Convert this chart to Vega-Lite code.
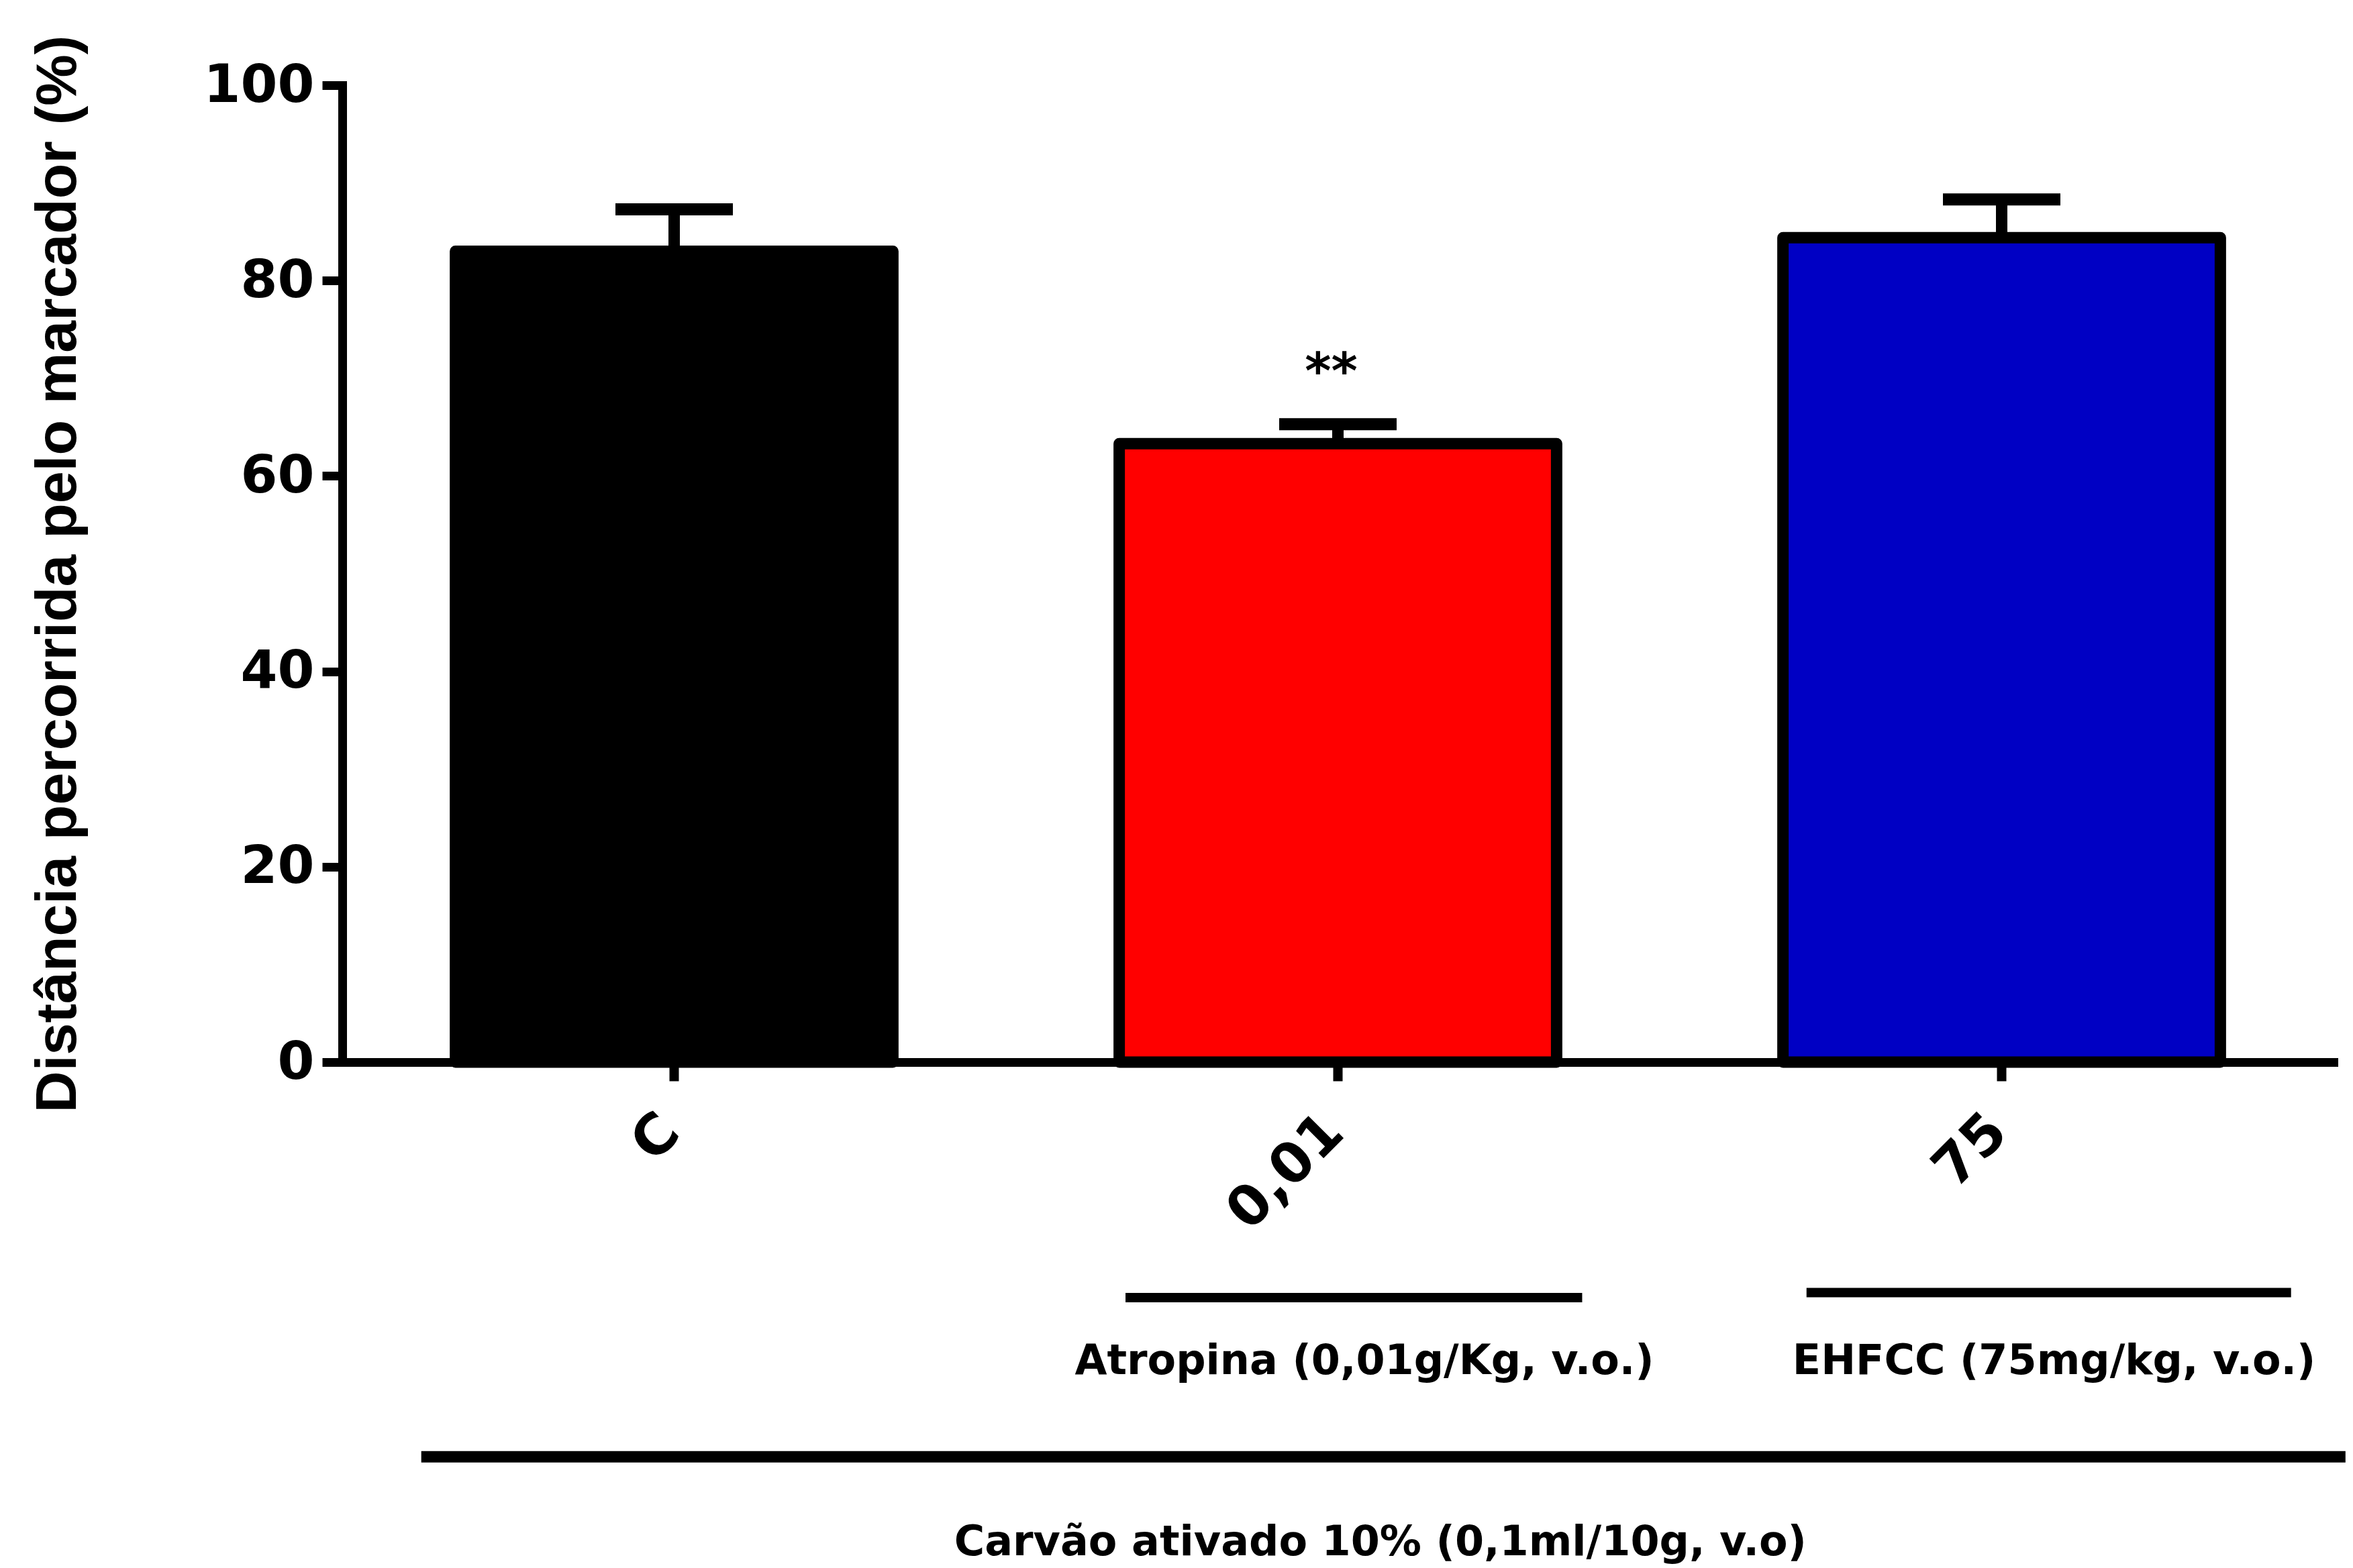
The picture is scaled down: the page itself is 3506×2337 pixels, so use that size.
{
  "$schema": "https://vega.github.io/schema/vega-lite/v6.json",
  "autosize": {"type": "none"},
  "width": 2967,
  "height": 1456,
  "padding": {"left": 510, "top": 127, "right": 29, "bottom": 754},
  "background": "white",
  "config": {"view": {"stroke": null}},
  "datasets": {
    "barras": [
      {"grupo": "C", "media": 83.0, "superior": 87.3, "sig": ""},
      {"grupo": "0,01", "media": 63.3, "superior": 65.3, "sig": "**"},
      {"grupo": "75", "media": 84.4, "superior": 88.3, "sig": ""}
    ],
    "notas": [
      {"texto": "Atropina (0,01g/Kg, v.o.)", "inicio": 1.18, "fim": 1.868, "centro": 1.54, "linha": -24.1, "nivel": -30.6, "espessura": "fina"},
      {"texto": "EHFCC (75mg/kg, v.o.)", "inicio": 2.206, "fim": 2.936, "centro": 2.579, "linha": -23.6, "nivel": -30.6, "espessura": "fina"},
      {"texto": "Carvão ativado 10% (0,1ml/10g, v.o)", "inicio": 0.119, "fim": 3.018, "centro": 1.564, "linha": -40.4, "nivel": -49.2, "espessura": "grossa"}
    ]
  },
  "layer": [
    {
      "data": {"name": "barras"},
      "encoding": {
        "x": {
          "field": "grupo",
          "type": "nominal",
          "sort": ["C", "0,01", "75"],
          "scale": {"paddingInner": 0.341, "paddingOuter": 0.1705},
          "axis": {
            "title": null,
            "labelAngle": -45,
            "labelFont": "DejaVu Sans",
            "labelFontWeight": "bold",
            "labelFontSize": 83,
            "labelColor": "black",
            "labelLimit": 1000,
            "labelPadding": 34,
            "labelOffset": -34,
            "tickSize": 28,
            "tickWidth": 14,
            "tickColor": "black",
            "domainWidth": 13,
            "domainColor": "black",
            "domainCap": "square"
          }
        }
      },
      "layer": [
        {
          "mark": {"type": "bar", "stroke": "black", "strokeWidth": 17, "strokeJoin": "round"},
          "encoding": {
            "y": {
              "field": "media",
              "type": "quantitative",
              "scale": {"domain": [0, 100], "nice": false},
              "axis": {
                "title": "Distância percorrida pelo marcador (%)",
                "titleFont": "Liberation Sans",
                "titleFontWeight": "bold",
                "titleFontSize": 86,
                "titleColor": "black",
                "titlePadding": 180,
                "values": [0, 20, 40, 60, 80, 100],
                "labelFont": "DejaVu Sans",
                "labelFontWeight": "bold",
                "labelFontSize": 79,
                "labelColor": "black",
                "labelPadding": 12,
                "tickSize": 30,
                "tickWidth": 13,
                "tickColor": "black",
                "domainWidth": 13,
                "domainColor": "black",
                "domainCap": "square",
                "grid": false
              }
            },
            "fill": {
              "field": "grupo",
              "type": "nominal",
              "scale": {"domain": ["C", "0,01", "75"], "range": ["#000000", "#FF0000", "#0000C4"]},
              "legend": null
            }
          }
        },
        {
          "mark": {"type": "rule", "color": "black", "strokeWidth": 17},
          "encoding": {
            "y": {"field": "media", "type": "quantitative"},
            "y2": {"field": "superior"}
          }
        },
        {
          "mark": {"type": "tick", "color": "black", "size": 175, "thickness": 18, "opacity": 1},
          "encoding": {
            "y": {"field": "superior", "type": "quantitative"}
          }
        },
        {
          "mark": {"type": "text", "font": "DejaVu Sans", "fontWeight": "bold", "fontSize": 75, "baseline": "middle", "dy": -76, "dx": -10, "color": "black"},
          "encoding": {
            "y": {"field": "superior", "type": "quantitative"},
            "text": {"field": "sig"}
          }
        }
      ]
    },
    {
      "data": {"name": "notas"},
      "encoding": {
        "x": {"field": "inicio", "type": "quantitative", "scale": {"domain": [0, 3], "nice": false, "zero": false}, "axis": null}
      },
      "layer": [
        {
          "mark": {"type": "rule", "color": "black", "strokeCap": "butt"},
          "encoding": {
            "x2": {"field": "fim"},
            "y": {"field": "linha", "type": "quantitative"},
            "strokeWidth": {"field": "espessura", "type": "nominal", "scale": {"domain": ["fina", "grossa"], "range": [14, 17]}, "legend": null}
          }
        },
        {
          "mark": {"type": "text", "font": "DejaVu Sans", "fontWeight": "bold", "fontSize": 62, "baseline": "middle", "align": "center", "color": "black"},
          "encoding": {
            "x": {"field": "centro", "type": "quantitative"},
            "y": {"field": "nivel", "type": "quantitative"},
            "text": {"field": "texto"}
          }
        }
      ]
    }
  ],
  "resolve": {"scale": {"x": "independent"}}
}
